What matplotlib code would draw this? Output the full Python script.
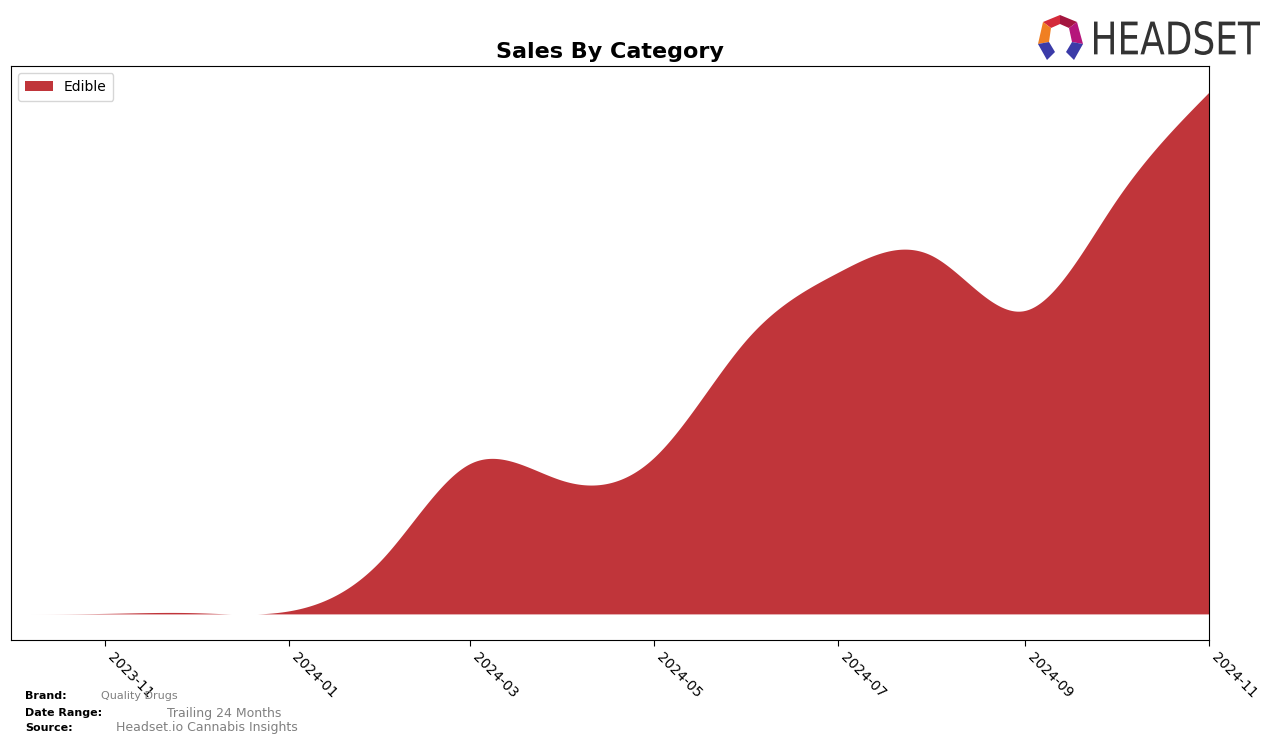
import numpy as np
import pandas as pd
import matplotlib
matplotlib.use("Agg")
import matplotlib.pyplot as plt
from matplotlib.patches import Polygon, PathPatch
from matplotlib.textpath import TextPath
from matplotlib.font_manager import FontProperties
from matplotlib.transforms import Affine2D

# monthly sales (relative units)
months = ["2023-10-01", "2023-11-01", "2023-12-01", "2024-01-01", "2024-02-01",
          "2024-03-01", "2024-04-01", "2024-05-01", "2024-06-01", "2024-07-01",
          "2024-08-01", "2024-09-01", "2024-10-01", "2024-11-01"]
edible = [0, 0.5, 1.2, 3, 55, 150, 133, 156, 275, 341, 358, 303, 412, 521]

tick_dates = ["2023-11-01", "2024-01-01", "2024-03-01", "2024-05-01",
              "2024-07-01", "2024-09-01", "2024-11-01"]
tick_labels = ["2023-11", "2024-01", "2024-03", "2024-05", "2024-07", "2024-09", "2024-11"]

category = "Edible"
fill_color = "#c0353a"


def natural_spline(x, y, xs):
    """Natural cubic spline evaluated at xs"""
    x = np.asarray(x, float)
    y = np.asarray(y, float)
    n = len(x)
    h = np.diff(x)
    A = np.zeros((n, n))
    b = np.zeros(n)
    A[0, 0] = A[-1, -1] = 1
    for i in range(1, n - 1):
        A[i, i - 1] = h[i - 1]
        A[i, i] = 2 * (h[i - 1] + h[i])
        A[i, i + 1] = h[i]
        b[i] = 3 * ((y[i + 1] - y[i]) / h[i] - (y[i] - y[i - 1]) / h[i - 1])
    c = np.linalg.solve(A, b)
    idx = np.clip(np.searchsorted(x, xs) - 1, 0, n - 2)
    dx = xs - x[idx]
    bb = (y[idx + 1] - y[idx]) / h[idx] - h[idx] * (2 * c[idx] + c[idx + 1]) / 3
    dd = (c[idx + 1] - c[idx]) / (3 * h[idx])
    return y[idx] + bb * dx + c[idx] * dx ** 2 + dd * dx ** 3


dates = pd.to_datetime(months)
xnum = matplotlib.dates.date2num(dates)
xs = np.linspace(xnum[0], xnum[-1], 800)
ys = np.clip(natural_spline(xnum, edible, xs), 0, None)

fig = plt.figure(figsize=(12.76, 7.45), dpi=100)
ax = fig.add_axes([11 / 1276, 1 - 640 / 745, 1198 / 1276, 574 / 745])

ax.fill_between(xs, 0, ys, color=fill_color, linewidth=0, label=category)
ax.set_xlim(xnum[0], xnum[-1])
ax.set_yticks([])
ax.set_xticks(matplotlib.dates.date2num(pd.to_datetime(tick_dates)))
ax.set_xticklabels(tick_labels, rotation=-45, ha="left", fontsize=10)
ax.tick_params(axis="x", length=4)
ax.set_title("Sales By Category", fontsize=16, fontweight="bold", pad=6)
ax.legend(loc="upper left", fontsize=10, handlelength=2, borderpad=0.5)

# footer
fig.text(25 / 1276, 1 - 696 / 745, "Brand:", fontsize=8, fontweight="bold", va="center")
fig.text(101 / 1276, 1 - 696 / 745, "Quality Drugs", fontsize=8, color="gray", va="center")
fig.text(25 / 1276, 1 - 713 / 745, "Date Range:", fontsize=8, fontweight="bold", va="center")
fig.text(167 / 1276, 1 - 713 / 745, "Trailing 24 Months", fontsize=9, color="gray", va="center")
fig.text(25 / 1276, 1 - 728 / 745, "Source:", fontsize=8, fontweight="bold", va="center")
fig.text(116 / 1276, 1 - 728 / 745, "Headset.io Cannabis Insights", fontsize=9, color="gray", va="center")

# logo
lax = fig.add_axes([0, 0, 1, 1], zorder=5)
lax.set_xlim(0, 1276)
lax.set_ylim(745, 0)
lax.axis("off")
pieces = [
    ([(1043, 22), (1060, 15), (1060, 24), (1051, 28)], "#d42a3a"),
    ([(1060, 15), (1077, 22), (1069, 28), (1060, 24)], "#a3153f"),
    ([(1043, 22), (1051, 28), (1049, 42), (1038, 44)], "#f07f22"),
    ([(1077, 22), (1083, 44), (1072, 42), (1069, 28)], "#b5167b"),
    ([(1038, 44), (1049, 42), (1055, 52), (1047, 60)], "#3b3ba8"),
    ([(1083, 44), (1072, 42), (1066, 52), (1074, 60)], "#3b3ba8"),
]
for pts, col in pieces:
    lax.add_patch(Polygon(pts, closed=True, color=col, linewidth=0))

# squeeze the wordmark into its box
tp = TextPath((0, 0), "HEADSET", size=1, prop=FontProperties(family="DejaVu Sans"))
ext = tp.get_extents()
tr = (Affine2D().translate(-ext.x0, -ext.y0)
      .scale(166 / ext.width, -34 / ext.height).translate(1094, 55))
lax.add_patch(PathPatch(tr.transform_path(tp), color="#333333", linewidth=0))

fig.savefig("out.png", dpi=100)
